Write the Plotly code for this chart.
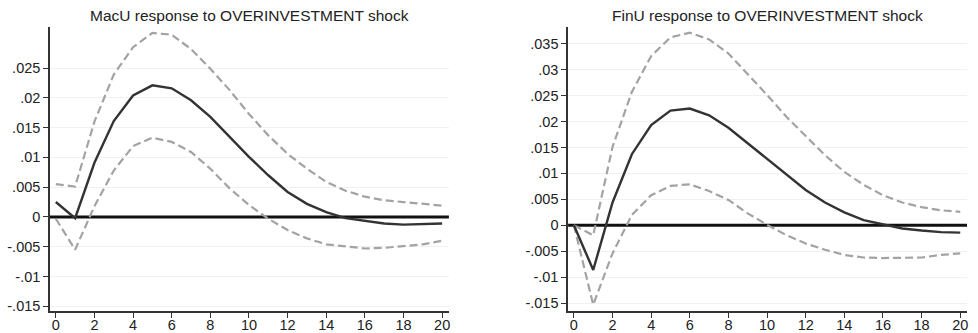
import plotly.graph_objects as go
from plotly.subplots import make_subplots

steps = list(range(21))

# MacU impulse response with confidence band
macu_irf = [0.0025, -0.0002, 0.0091, 0.0161, 0.0204, 0.0221, 0.0216, 0.0196, 0.0168, 0.0134,
            0.0101, 0.0070, 0.0042, 0.0022, 0.0008, -0.0002, -0.0007, -0.0011, -0.0013, -0.0012, -0.0011]
macu_upper = [0.0055, 0.0051, 0.0160, 0.0239, 0.0285, 0.0309, 0.0306, 0.0282, 0.0249, 0.0213,
              0.0173, 0.0137, 0.0106, 0.0081, 0.0059, 0.0044, 0.0034, 0.0028, 0.0025, 0.0022, 0.0019]
macu_lower = [-0.0003, -0.0055, 0.0018, 0.0078, 0.0119, 0.0133, 0.0126, 0.0109, 0.0081, 0.0048,
              0.0020, -0.0003, -0.0022, -0.0036, -0.0046, -0.0050, -0.0053, -0.0052, -0.0049, -0.0046, -0.0040]

# FinU impulse response with confidence band
finu_irf = [0.0, -0.0086, 0.0044, 0.0137, 0.0193, 0.0221, 0.0225, 0.0212, 0.0188, 0.0158,
            0.0127, 0.0097, 0.0068, 0.0044, 0.0025, 0.0010, 0.0002, -0.0006, -0.0010, -0.0013, -0.0014]
finu_upper = [0.0, -0.0019, 0.0151, 0.0257, 0.0326, 0.0362, 0.0371, 0.0358, 0.0331, 0.0292,
              0.0251, 0.0209, 0.0171, 0.0135, 0.0103, 0.0078, 0.0058, 0.0044, 0.0035, 0.0029, 0.0026]
finu_lower = [0.0, -0.0153, -0.0054, 0.0020, 0.0058, 0.0076, 0.0079, 0.0066, 0.0049, 0.0023,
              0.0001, -0.0019, -0.0035, -0.0047, -0.0057, -0.0062, -0.0063, -0.0063, -0.0062, -0.0057, -0.0054]

titles = ["MacU response to OVERINVESTMENT shock", "FinU response to OVERINVESTMENT shock"]

macu_ticks = [-0.015, -0.01, -0.005, 0, 0.005, 0.01, 0.015, 0.02, 0.025]
finu_ticks = [-0.015, -0.01, -0.005, 0, 0.005, 0.01, 0.015, 0.02, 0.025, 0.03, 0.035]
x_ticks = list(range(0, 21, 2))

FONT = "Liberation Sans, Arial"


def stata_label(v):
    if v == 0:
        return "0"
    return f"{v:g}".replace("0.", ".")


fig = make_subplots(rows=1, cols=2, horizontal_spacing=0.13)

domains = [[0.0, 0.435], [0.565, 1.0]]
panels = [
    (1, macu_irf, macu_upper, macu_lower, macu_ticks, [-0.0158, 0.0319]),
    (2, finu_irf, finu_upper, finu_lower, finu_ticks, [-0.0165, 0.0382]),
]

for col, irf, up, lo, yt, yr in panels:
    # zero reference line
    fig.add_trace(go.Scatter(x=[-0.3, 20.35], y=[0, 0], mode="lines",
                             line=dict(color="#111111", width=3), hoverinfo="skip"),
                  row=1, col=col)
    for band in (up, lo):
        fig.add_trace(go.Scatter(x=steps, y=band, mode="lines",
                                 line=dict(color="#a3a3a3", width=2.2, dash="8px,4px")),
                      row=1, col=col)
    fig.add_trace(go.Scatter(x=steps, y=irf, mode="lines",
                             line=dict(color="#333333", width=2.4)),
                  row=1, col=col)
    fig.update_yaxes(range=yr, tickvals=yt, ticktext=[stata_label(v) for v in yt],
                     showgrid=True, gridcolor="#f1f1f1", gridwidth=1, zeroline=False,
                     showline=True, linecolor="#333333", linewidth=1.5,
                     ticks="outside", ticklen=5, tickcolor="#333333", automargin=False,
                     tickfont=dict(family=FONT, size=14.5, color="#222222"),
                     row=1, col=col)
    fig.update_xaxes(range=[-0.3, 20.35], tickvals=x_ticks, domain=domains[col - 1],
                     showgrid=False, zeroline=False,
                     showline=True, linecolor="#333333", linewidth=1.5,
                     ticks="outside", ticklen=5, tickcolor="#333333", automargin=False,
                     ticklabelstandoff=-5,
                     tickfont=dict(family=FONT, size=14.5, color="#222222"),
                     row=1, col=col)

for dom, t in zip(domains, titles):
    fig.add_annotation(text=t, x=(dom[0] + dom[1]) / 2, xref="paper", xanchor="center",
                       y=1.0, yref="paper", yanchor="bottom", yshift=1,
                       showarrow=False, font=dict(family=FONT, size=15.5, color="#222222"))

fig.update_layout(width=978, height=333, showlegend=False,
                  paper_bgcolor="white", plot_bgcolor="white",
                  margin=dict(l=50, r=11, t=27, b=22, autoexpand=False))

fig.write_html("out.html")
